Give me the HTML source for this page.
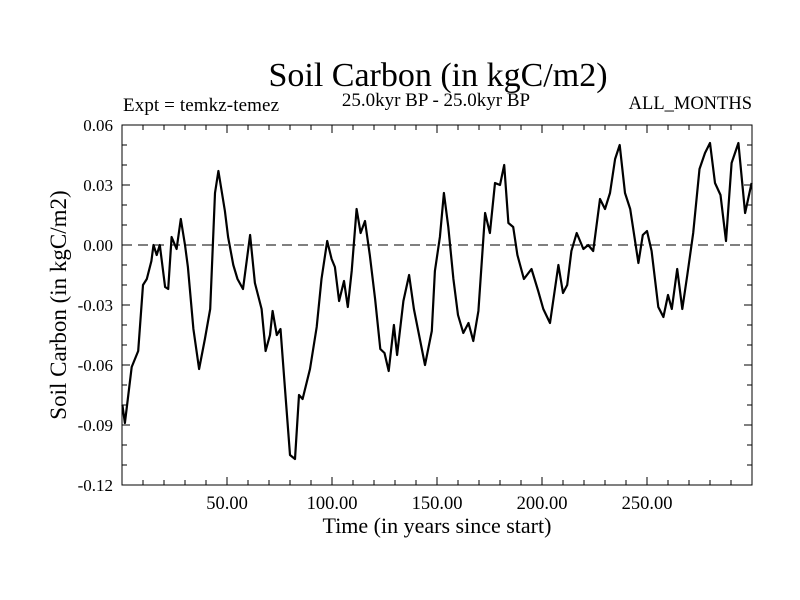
<!DOCTYPE html>
<html><head><meta charset="utf-8"><style>
html,body{margin:0;padding:0;background:#fff;}
svg{display:block;font-family:"Liberation Serif",serif;}
</style></head><body>
<svg id="chart" width="800" height="600" viewBox="0 0 800 600">
<rect x="0" y="0" width="800" height="600" fill="#fff"/>
<text x="438" y="86" font-size="34" text-anchor="middle">Soil Carbon (in kgC/m2)</text>
<text x="123" y="111" font-size="19" textLength="156">Expt = temkz-temez</text>
<text x="436" y="106" font-size="19" text-anchor="middle">25.0kyr BP - 25.0kyr BP</text>
<text x="752" y="109" font-size="18.5" text-anchor="end">ALL_MONTHS</text>
<text x="437" y="533" font-size="22" text-anchor="middle">Time (in years since start)</text>
<text transform="translate(66,305) rotate(-90)" font-size="23" text-anchor="middle">Soil Carbon (in kgC/m2)</text>
<g id="axes"></g>
<g id="series"></g>
</svg>
<script>
const times=[0.2,1.4,3,4.6,7.7,10,11.8,14,15,16.5,18,20.5,22,23.6,26,28,30,31.4,34,36.7,39.5,42,44.3,45.9,49,50.5,53,55,57.6,61,63.3,66.5,68.4,70.5,71.7,73.7,75.5,77.6,80,82.4,84.3,86,89.5,92.7,95,97.7,99.8,101.4,103.4,105.7,107.5,109.4,111.7,113.6,115.7,118,120.5,123,125,127,129.5,131,134,136.7,139,144.3,147.5,149,151.4,153.3,155.4,157.8,160,162.5,165,167.3,169.7,172.9,175.2,177.6,180,182,184,186.3,188.3,191.4,195,198.2,200.6,203.8,207.8,210,212,214,216.5,219.7,222,224.4,227.6,230,232.4,234.8,237,239.5,242,245.9,248,250,252.2,255.4,257.8,260,261.8,264.4,266.8,269.2,272,275,277.6,280,282.4,285,287.6,290.3,293.5,296.7,299.8];
const values=[-0.080,-0.089,-0.075,-0.061,-0.053,-0.020,-0.017,-0.008,0.000,-0.005,0.000,-0.021,-0.022,0.004,-0.002,0.013,0.000,-0.011,-0.042,-0.062,-0.047,-0.032,0.026,0.037,0.017,0.004,-0.010,-0.017,-0.022,0.005,-0.019,-0.032,-0.053,-0.045,-0.033,-0.045,-0.042,-0.072,-0.105,-0.107,-0.075,-0.077,-0.062,-0.041,-0.017,0.002,-0.007,-0.011,-0.028,-0.018,-0.031,-0.013,0.018,0.006,0.012,-0.005,-0.027,-0.052,-0.054,-0.063,-0.040,-0.055,-0.028,-0.015,-0.032,-0.060,-0.043,-0.013,0.004,0.026,0.009,-0.017,-0.035,-0.044,-0.039,-0.048,-0.033,0.016,0.006,0.031,0.030,0.040,0.011,0.009,-0.005,-0.017,-0.012,-0.023,-0.032,-0.039,-0.010,-0.024,-0.020,-0.003,0.006,-0.002,0.000,-0.003,0.023,0.018,0.026,0.043,0.050,0.026,0.018,-0.009,0.005,0.007,-0.003,-0.031,-0.036,-0.025,-0.032,-0.012,-0.032,-0.015,0.006,0.038,0.046,0.051,0.031,0.025,0.002,0.041,0.051,0.016,0.031];
const yTicks=[0.06,0.03,0.00,-0.03,-0.06,-0.09,-0.12];
const yTickLabels=["0.06","0.03","0.00","-0.03","-0.06","-0.09","-0.12"];
const xTicks=[50,100,150,200,250];
const xTickLabels=["50.00","100.00","150.00","200.00","250.00"];
const L=122,R=752,T=125,B=485,xMin=0,xMax=300,yMin=-0.12,yMax=0.06;
const NS="http://www.w3.org/2000/svg";
function sx(t){return L+(t-xMin)/(xMax-xMin)*(R-L);}
function sy(v){return B-(v-yMin)/(yMax-yMin)*(B-T);}
function mk(tag,attrs,parent){const e=document.createElementNS(NS,tag);for(const k in attrs)e.setAttribute(k,attrs[k]);parent.appendChild(e);return e;}
const axes=document.getElementById('axes');
const frame=mk('rect',{x:L,y:T,width:R-L,height:B-T,fill:'none',stroke:'#000','stroke-width':1},axes);


for(let t=10;t<300;t+=10){const maj=t%50===0;const len=maj?8:5;
const a=mk('line',{x1:sx(t),x2:sx(t),y1:B,y2:B-len,stroke:'#000'},axes);


const b=mk('line',{x1:sx(t),x2:sx(t),y1:T,y2:T+len,stroke:'#000'},axes);

}
for(let i=1;i<18;i++){const v=yMin+i*0.01;const maj=i%3===0;const len=maj?8:5;
const a=mk('line',{x1:L,x2:L+len,y1:sy(v),y2:sy(v),stroke:'#000'},axes);


const b=mk('line',{x1:R,x2:R-len,y1:sy(v),y2:sy(v),stroke:'#000'},axes);

}
yTicks.forEach((v,i)=>{const e=mk('text',{x:113,y:sy(v)+6,'font-size':17,'text-anchor':'end'},axes);e.textContent=yTickLabels[i];

});
xTicks.forEach((t,i)=>{const e=mk('text',{x:sx(t),y:509,'font-size':18.5,'text-anchor':'middle'},axes);e.textContent=xTickLabels[i];

});
const zl=mk('line',{x1:L,x2:R,y1:sy(0),y2:sy(0),stroke:'#000','stroke-dasharray':'10,6'},axes);


const series=document.getElementById('series');
const p=mk('polyline',{points:times.map((t,i)=>sx(t).toFixed(1)+','+sy(values[i]).toFixed(1)).join(' '),fill:'none',stroke:'#000','stroke-width':2.2,'stroke-linejoin':'round'},series);


</script>
</body></html>
